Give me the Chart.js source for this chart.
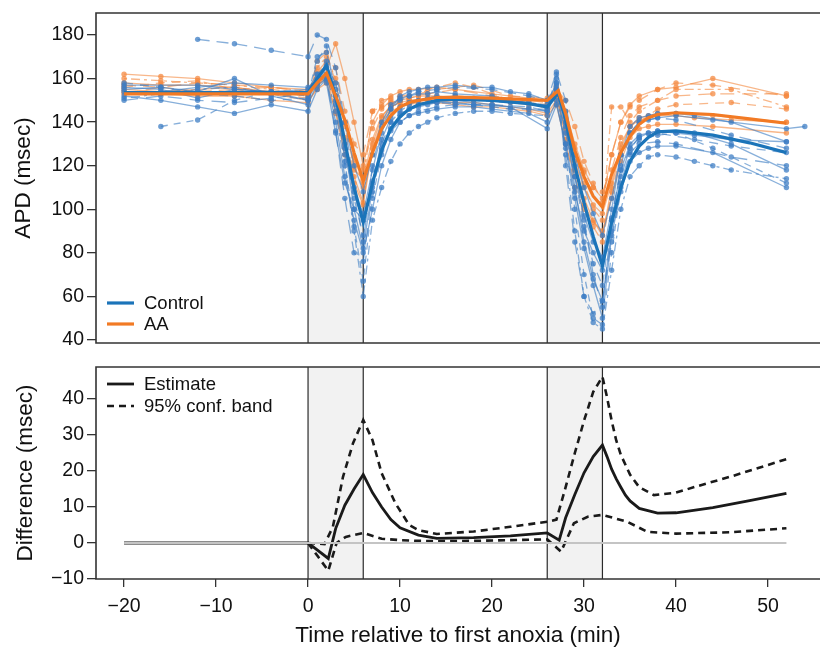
<!DOCTYPE html>
<html>
<head>
<meta charset="utf-8">
<script src="https://cdn.jsdelivr.net/npm/chart.js@4.4.1/dist/chart.umd.min.js"></script>
<style>
  html, body { margin: 0; padding: 0; background: #fff; }
  #wrap { position: relative; width: 820px; height: 649px; overflow: hidden; }
  canvas { position: absolute; left: 0; }
  #apdChart { top: 0; }
  #diffChart { top: 355px; }
</style>
</head>
<body>
<div id="wrap">
  <canvas id="apdChart" width="830" height="355"></canvas>
  <canvas id="diffChart" width="830" height="294"></canvas>
</div>
<script>
// ---------- data ----------
const _ = null;

// sampling times (min) shared by every recording
const T = [-20,-16,-12,-8,-4,0, 1,2,3,4,5,6, 7,8,9,10,11,12,13,14, 16,18,20,22,24,
           26,27,28,29,30,31,32, 33,34,35,36,37,38,40, 42,44,46,52,54];

// Control recordings (APD, msec)
const ctrl1  = [_,_,178,176,173,170, 180,178,165,140,110,85, 120,138,146,150,152,154,_,155, 156,_,155,_,152, 150,163,150,120,95,70,55, 95,120,135,140,_,142,141, _,_,134,128,_];
const ctrl2  = [155,156,154,160,152,148, 158,165,150,130,100,82, 110,132,142,147,149,150,151,152, 150,_,148,_,146, 145,155,140,110,85,68,58, 90,115,128,133,135,136,_, 135,_,130,118,_];
const ctrl3  = [_,138,141,150,154,152, 170,172,155,122,92,67, 105,125,140,145,148,150,_,151, 152,150,_,149,_, 148,158,130,100,70,50,47, 80,110,125,132,_,134,135, _,128,_,112,_];
const ctrl4  = [152,150,147,144,148,145, 155,160,140,115,95,80, 100,120,132,140,143,144,145,146, 147,147,146,_,144, 140,150,128,105,82,65,50, 88,108,122,126,128,129,129, _,126,_,110,_];
const ctrl5  = [151,153,155,156,153,150, 160,162,145,120,90,60, 95,110,122,130,135,138,140,142, 144,145,145,144,_, 143,158,125,90,60,48,45, 72,100,115,120,124,125,124, 122,120,118,114,_];
const ctrl6  = [157,_,157,155,154,155, 162,166,158,140,120,108, 125,140,148,151,152,153,153,154, 153,_,152,150,149, 147,155,145,125,110,98,88, 105,125,135,140,141,142,143, _,141,_,137,138];
const ctrl7  = [158,156,153,152,150,151, 168,175,152,128,105,88, 112,130,140,144,146,148,_,149, _,148,147,146,_, 146,160,138,115,92,75,65, 96,118,128,133,_,135,_, 132,_,129,126,_];
const ctrl8  = [154,154,156,158,157,156, 158,168,148,125,108,98, 118,135,146,152,154,155,156,156, 157,156,156,154,153, 150,157,135,115,97,85,78, 100,125,138,142,143,144,144, 143,_,140,131,_];
const ctrl9  = [150,152,150,149,151,153, 157,160,136,105,80,76, 108,127,136,140,143,145,_,147, 148,_,148,_,147, 145,162,120,85,60,52,58, 85,112,126,130,_,131,130, _,_,124,120,_];
const ctrl10 = [156,155,151,155,154,150, 162,158,135,112,100,95, 113,128,137,143,146,147,148,149, 149,148,_,147,_, 137,148,130,108,90,80,72, 95,118,130,134,135,136,135, 134,_,132,131,_];

// AA recordings (APD, msec)
const aa1 = [162,161,160,158,156,155, 160,165,176,160,140,120, 140,148,152,154,155,155,_,156, 155,_,153,_,151, 150,155,145,130,118,110,105, 125,140,148,152,_,155,156, _,160,_,152,_];
const aa2 = [160,159,158,157,155,153, 165,170,160,140,122,112, 145,147,149,150,_,152,155,_, 158,156,_,150,_, 148,152,140,125,112,100,95, 147,147,140,145,_,150,155, _,_,155,147,_];
const aa3 = [158,157,157,156,154,152, 157,160,150,130,115,103, 130,142,148,150,151,152,_,152, 151,151,150,149,148, 147,153,135,118,105,95,88, 110,128,138,142,143,144,144, _,143,_,140,_];
const aa4 = [156,158,159,155,153,151, 168,172,158,138,120,110, 125,140,147,149,150,_,151,_, 152,_,151,_,149, 146,154,132,110,100,92,85, 108,125,135,140,_,146,148, _,_,149,146,_];
const aa5 = [155,154,155,156,153,150, 155,158,145,128,118,114, 132,143,147,149,150,150,150,150, 149,149,148,_,146, 144,150,137,122,110,102,98, 112,130,138,141,142,143,143, 142,_,141,140,_];
const aa6 = [153,156,158,157,156,154, 162,167,152,133,124,118, 137,146,150,151,152,_,153,_, 155,_,152,_,150, 149,156,142,128,117,110,108, 118,133,143,147,_,150,152, _,153,_,153,_];
const aa7 = [154,153,152,152,150,149, 156,162,144,125,112,102, 128,140,145,147,148,149,_,149, 148,147,147,_,145, 143,148,130,115,102,94,90, 105,122,133,137,138,139,139, _,138,_,135,_];
const aa8 = [157,156,154,155,156,154, 163,168,165,145,130,125, 145,150,151,152,_,153,_,155, _,157,_,152,_, 151,155,150,138,122,112,103, 125,140,147,150,_,155,158, _,157,_,152,_];

// fitted group curves
const meanT    = [-20,0,1,2,3,4,5,6, 7,8,9,10,11,12, 14,16,20,24,26, 27.2,28,29,30,31,32, 33,34,35,36,37,38, 40,44,48,52];
const ctrlMean = [153.5,153.5,160,166,152,131,110,94, 112,127,137,142.5,146,148, 150,150.5,150,148.5,147, 153.5,141,120,103,87.5,74, 94,110,122,129,133,135.5, 136,134,130.5,126];
const aaMean   = [153,153,158,162.5,152,141,126,113, 126,137,143,147,149,150, 151.3,151.5,151,150.3,150, 154.5,144,127,115,106,101, 116,126,133.5,139,142,143.5, 144.3,143.5,141.5,139.5];

// difference AA - Control
const estT  = [-20,0,2.2,3,4,5,6, 7,8,9,10,12,14,18,22,26, 27.3,28,29,30,31,32, 32.5,33,33.5,34,34.5,35,36,38,40,44,48,52];
const est   = [0,0,-4.3,4,10.5,15,19, 14,10,6.5,4.2,2.2,1.3,1.5,2,2.8, 0.8,7,13.5,19.5,24,27.2, 24,20.5,17.8,15.5,13.3,11.7,9.6,8.3,8.4,9.8,11.8,13.8];
const upperT = [0,1.8,2.7,3.8,4.9,6, 7,8,9.5,11,12,14, 18,22,26,27,28, 29,30,31,32, 32.5,33,33.5,34,35,36,37.6, 40,42.6,46,52];
const upper  = [0,-0.3,4.5,18.4,27.8,34.2, 28.6,19.4,11,5,3.6,2.5, 3.2,4.5,5.9,6.5,15.5, 25,34,42,46.2, 40.5,34,28.5,24.5,19,15.5,13.3, 14,16,18.5,23.3];
const lowerT = [0,1,2.2,3.1,4.1,6, 8,10,12,14,18,22,26, 27.5,28.9,30.4,32, 34.7,36.9,40,46,52];
const lower  = [0,-3.5,-7.7,0,1.7,2.8, 1.2,0.8,0.6,0.5,0.6,0.8,1.0, -2.4,5.5,7.3,7.8, 5.9,3.1,2.6,3,4.1];
const zeroT = [-20, 52];
const zero  = [0, 0];

// anoxia windows (min)
const anoxiaStart = [0, 26];
const anoxiaEnd   = [6, 32];

// axis ticks
const apdTicks  = [40, 60, 80, 100, 120, 140, 160, 180];
const diffTicks = [-10, 0, 10, 20, 30, 40];
const timeTicks = [-20, -10, 0, 10, 20, 30, 40, 50];

// ---------- styling ----------
const BLUE = '#1b74b9';
const ORANGE = '#f27a24';
const BLUE_LN = 'rgba(62,126,196,0.62)';
const ORANGE_LN = 'rgba(244,138,66,0.62)';
const BLUE_PT = 'rgba(62,126,196,0.75)';
const ORANGE_PT = 'rgba(244,138,66,0.75)';
const dashes = [[12,7], [], [7,6], [], [3,4,9,4], [], [9,7], [], [14,8], []];
const FONT = '"Liberation Sans", Arial, sans-serif';

Chart.defaults.font.family = FONT;
Chart.defaults.color = '#111';

function toXY(ts, vs) {
  return ts.map((t, i) => ({ x: t, y: vs[i] }));
}

// shaded anoxia windows with their edge lines
const anoxiaBands = {
  id: 'anoxiaBands',
  beforeDatasetsDraw(chart) {
    const { ctx, chartArea: a, scales: { x } } = chart;
    ctx.save();
    anoxiaStart.forEach((s, i) => {
      const x0 = x.getPixelForValue(s);
      const x1 = x.getPixelForValue(anoxiaEnd[i]);
      ctx.fillStyle = '#f2f2f2';
      ctx.fillRect(x0, a.top, x1 - x0, a.bottom - a.top);
      ctx.strokeStyle = '#2b2b2b';
      ctx.lineWidth = 1.2;
      [x0, x1].forEach(px => {
        ctx.beginPath();
        ctx.moveTo(px, a.top);
        ctx.lineTo(px, a.bottom);
        ctx.stroke();
      });
    });
    ctx.restore();
  }
};

// frame: top, left and bottom (the right side runs off the picture)
const panelFrame = {
  id: 'panelFrame',
  afterDraw(chart) {
    const { ctx, chartArea: a } = chart;
    ctx.save();
    ctx.strokeStyle = '#333';
    ctx.lineWidth = 1.6;
    ctx.beginPath();
    ctx.moveTo(a.right + 2, a.top);
    ctx.lineTo(a.left, a.top);
    ctx.lineTo(a.left, a.bottom);
    ctx.lineTo(a.right + 2, a.bottom);
    ctx.stroke();
    ctx.restore();
  }
};

// small legend inside the panel
const panelLegend = {
  id: 'panelLegend',
  afterDatasetsDraw(chart, args, opts) {
    const { ctx, chartArea: a } = chart;
    ctx.save();
    ctx.font = '18.5px ' + FONT;
    ctx.textBaseline = 'middle';
    opts.items.forEach((it, i) => {
      const y = a.top + opts.top + i * opts.gap;
      ctx.strokeStyle = it.color;
      ctx.lineWidth = it.width;
      ctx.setLineDash(it.dash || []);
      ctx.beginPath();
      ctx.moveTo(a.left + 11, y);
      ctx.lineTo(a.left + 38, y);
      ctx.stroke();
      ctx.setLineDash([]);
      ctx.fillStyle = '#111';
      ctx.fillText(it.label, a.left + 48, y + 1);
    });
    ctx.restore();
  }
};

const fmt = v => (v < 0 ? '\u2212' + Math.abs(v) : String(v));

function yAxis(min, max, ticks, title, titlePad) {
  return {
    type: 'linear', min: min, max: max,
    afterBuildTicks: s => { s.ticks = ticks.map(v => ({ value: v })); },
    afterFit: s => { s.width = 96; s.paddingTop = 0; s.paddingBottom = 0; },
    grid: { drawOnChartArea: false, drawTicks: true, tickLength: 9, color: '#333', lineWidth: 1.3 },
    border: { display: false },
    ticks: { font: { size: 19.5 }, padding: 3, color: '#111', callback: v => fmt(v) },
    title: { display: true, text: title, font: { size: 22.5 }, color: '#111', padding: { top: titlePad, bottom: 0 } }
  };
}

// ---------- top panel: APD ----------
const ctrlRuns = [ctrl1, ctrl2, ctrl3, ctrl4, ctrl5, ctrl6, ctrl7, ctrl8, ctrl9, ctrl10];
const aaRuns = [aa1, aa2, aa3, aa4, aa5, aa6, aa7, aa8];

const apdSets = [
  { label: 'AA', data: toXY(meanT, aaMean), borderColor: ORANGE, borderWidth: 3.2, pointRadius: 0 },
  { label: 'Control', data: toXY(meanT, ctrlMean), borderColor: BLUE, borderWidth: 3.2, pointRadius: 0 }
];
ctrlRuns.forEach((r, i) => apdSets.push({
  data: toXY(T, r), borderColor: BLUE_LN, borderWidth: 1.3, borderDash: dashes[i % dashes.length],
  pointRadius: 2.7, pointBackgroundColor: BLUE_PT, pointBorderWidth: 0, spanGaps: true
}));
aaRuns.forEach((r, i) => apdSets.push({
  data: toXY(T, r), borderColor: ORANGE_LN, borderWidth: 1.3, borderDash: dashes[(i + 3) % dashes.length],
  pointRadius: 2.7, pointBackgroundColor: ORANGE_PT, pointBorderWidth: 0, spanGaps: true
}));

new Chart(document.getElementById('apdChart'), {
  type: 'line',
  data: { datasets: apdSets },
  options: {
    responsive: false, animation: false, events: [],
    layout: { padding: { left: 0, right: 10, top: 13, bottom: 12 } },
    scales: {
      x: { type: 'linear', display: false, min: -23.05, max: 55.65 },
      y: yAxis(38.6, 190.1, apdTicks, 'APD (msec)', 10)
    },
    plugins: {
      legend: { display: false }, tooltip: { enabled: false },
      panelLegend: { top: 290, gap: 21, items: [
        { label: 'Control', color: BLUE, width: 3.2 },
        { label: 'AA', color: ORANGE, width: 3.2 }
      ] }
    }
  },
  plugins: [anoxiaBands, panelLegend, panelFrame]
});

// ---------- bottom panel: difference ----------
new Chart(document.getElementById('diffChart'), {
  type: 'line',
  data: { datasets: [
    { data: toXY(zeroT, zero), borderColor: '#c4c4c4', borderWidth: 2, pointRadius: 0 },
    { data: toXY(estT, est), borderColor: '#1a1a1a', borderWidth: 2.8, pointRadius: 0 },
    { data: toXY(upperT, upper), borderColor: '#1a1a1a', borderWidth: 2.6, borderDash: [7, 5], pointRadius: 0 },
    { data: toXY(lowerT, lower), borderColor: '#1a1a1a', borderWidth: 2.6, borderDash: [7, 5], pointRadius: 0 }
  ] },
  options: {
    responsive: false, animation: false, events: [],
    layout: { padding: { left: 0, right: 10, top: 12, bottom: 0 } },
    scales: {
      x: {
        type: 'linear', min: -23.05, max: 55.65,
        afterBuildTicks: s => { s.ticks = timeTicks.map(v => ({ value: v })); },
        afterFit: s => { s.height = 70; },
        grid: { drawOnChartArea: false, drawTicks: true, tickLength: 8, color: '#333', lineWidth: 1.3 },
        border: { display: false },
        ticks: { font: { size: 19.5 }, padding: 8, color: '#111', maxRotation: 0, autoSkip: false, callback: v => fmt(v) },
        title: { display: true, text: 'Time relative to first anoxia (min)', font: { size: 22.5 }, color: '#111', padding: { top: 0, bottom: 0 } }
      },
      y: yAxis(-10, 48.9, diffTicks, 'Difference (msec)', 12.5)
    },
    plugins: {
      legend: { display: false }, tooltip: { enabled: false },
      panelLegend: { top: 17, gap: 22, items: [
        { label: 'Estimate', color: '#1a1a1a', width: 2.8 },
        { label: '95% conf. band', color: '#1a1a1a', width: 2.6, dash: [7, 5] }
      ] }
    }
  },
  plugins: [anoxiaBands, panelLegend, panelFrame]
});
</script>
</body>
</html>
